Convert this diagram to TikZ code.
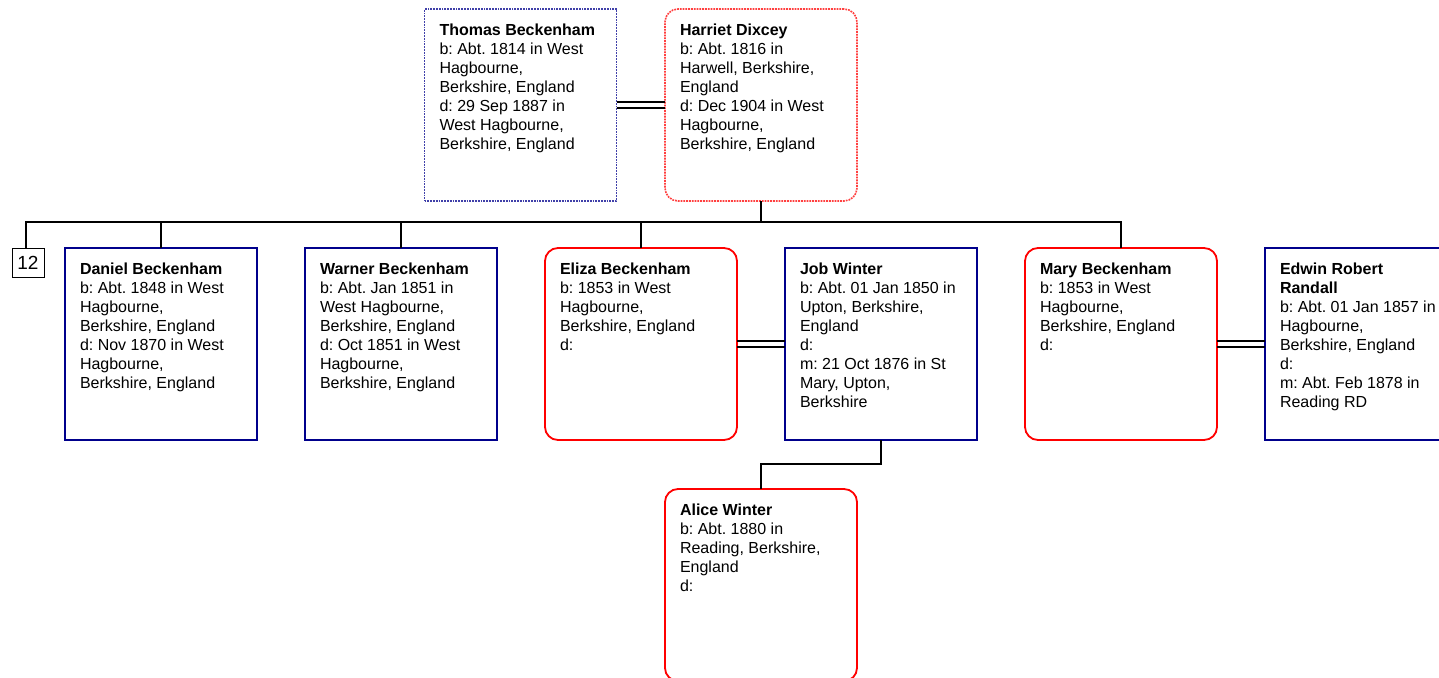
\documentclass[tikz,border=0pt]{standalone}
\usepackage{fontspec}
\setmainfont{Liberation Sans}
\frenchspacing
\definecolor{navyb}{RGB}{0,0,140}
\definecolor{redb}{RGB}{255,0,0}
\tikzset{
  box/.style={draw, minimum width=192pt, minimum height=192pt, inner sep=0pt, outer sep=0pt, line width=1.8pt},
  male/.style={box, draw=navyb},
  female/.style={box, draw=redb, rounded corners=13pt},
  malep/.style={box, draw=navyb!75, densely dotted, line width=1.6pt},
  femalep/.style={box, draw=redb!75, densely dotted, line width=1.6pt, rounded corners=13pt},
  txt/.style={anchor=north west, inner sep=0pt, outer sep=0pt, align=left, font=\fontsize{16}{19}\selectfont\frenchspacing},
  conn/.style={draw, black, line width=1.8pt},
  numbox/.style={draw, black, line width=0.8pt, minimum width=32pt, minimum height=29pt, inner sep=0pt, font=\fontsize{19}{19}\selectfont}
}
\newcommand{\fl}{\rule{0pt}{11.5pt}}
\begin{document}
\begin{tikzpicture}[x=1pt,y=-1pt]
\useasboundingbox (0,0) rectangle (1439,677);
\clip (0,0) rectangle (1439,677);
\fill[white] (0,0) rectangle (1439,677);
% parents
\node[malep] (thomas) at (520.5,105) {};
\node[femalep] (harriet) at (761,105) {};
\node[txt] (thomast) at ([shift={(15pt,-15pt)}]thomas.north west) {\fl\textbf{Thomas Beckenham}\\b: Abt. 1814 in West\\Hagbourne,\\Berkshire, England\\d: 29 Sep 1887 in\\West Hagbourne,\\Berkshire, England};
\node[txt] (harriett) at ([shift={(15pt,-15pt)}]harriet.north west) {\fl\textbf{Harriet Dixcey}\\b: Abt. 1816 in\\Harwell, Berkshire,\\England\\d: Dec 1904 in West\\Hagbourne,\\Berkshire, England};
% children
\node[numbox] (num) at (28,262.5) {12};
\node[male] (daniel) at (161,344) {};
\node[male] (warner) at (401,344) {};
\node[female] (eliza) at (641,344) {};
\node[male] (job) at (881,344) {};
\node[female] (mary) at (1121,344) {};
\node[male] (edwin) at (1361,344) {};
\node[female] (alice) at (761,585) {};
\node[txt] (danielt) at ([shift={(15pt,-15pt)}]daniel.north west) {\fl\textbf{Daniel Beckenham}\\b: Abt. 1848 in West\\Hagbourne,\\Berkshire, England\\d: Nov 1870 in West\\Hagbourne,\\Berkshire, England};
\node[txt] (warnert) at ([shift={(15pt,-15pt)}]warner.north west) {\fl\textbf{Warner Beckenham}\\b: Abt. Jan 1851 in\\West Hagbourne,\\Berkshire, England\\d: Oct 1851 in West\\Hagbourne,\\Berkshire, England};
\node[txt] (elizat) at ([shift={(15pt,-15pt)}]eliza.north west) {\fl\textbf{Eliza Beckenham}\\b: 1853 in West\\Hagbourne,\\Berkshire, England\\d:};
\node[txt] (jobt) at ([shift={(15pt,-15pt)}]job.north west) {\fl\textbf{Job Winter}\\b: Abt. 01 Jan 1850 in\\Upton, Berkshire,\\England\\d:\\m: 21 Oct 1876 in St\\Mary, Upton,\\Berkshire};
\node[txt] (maryt) at ([shift={(15pt,-15pt)}]mary.north west) {\fl\textbf{Mary Beckenham}\\b: 1853 in West\\Hagbourne,\\Berkshire, England\\d:};
\node[txt] (edwint) at ([shift={(15pt,-15pt)}]edwin.north west) {\fl\textbf{Edwin Robert}\\\textbf{Randall}\\b: Abt. 01 Jan 1857 in\\Hagbourne,\\Berkshire, England\\d:\\m: Abt. Feb 1878 in\\Reading RD};
\node[txt] (alicet) at ([shift={(15pt,-15pt)}]alice.north west) {\fl\textbf{Alice Winter}\\b: Abt. 1880 in\\Reading, Berkshire,\\England\\d:};
% marriage double lines
\foreach \a/\b in {thomas/harriet, eliza/job, mary/edwin}{
  \draw[conn] ([yshift=3pt]\a.east) -- ([yshift=3pt]\b.west);
  \draw[conn] ([yshift=-3pt]\a.east) -- ([yshift=-3pt]\b.west);
}
% descent
\draw[conn] (harriet.south) -- ++(0,21) coordinate (bar);
\draw[conn] ([xshift=-2pt]num.north) |- (bar);
\foreach \c in {daniel, warner, eliza, mary}{
  \draw[conn] (\c.north) |- (bar);
}
\draw[conn] (job.south) -- ++(0,24) -| (alice.north);
\end{tikzpicture}
\end{document}
